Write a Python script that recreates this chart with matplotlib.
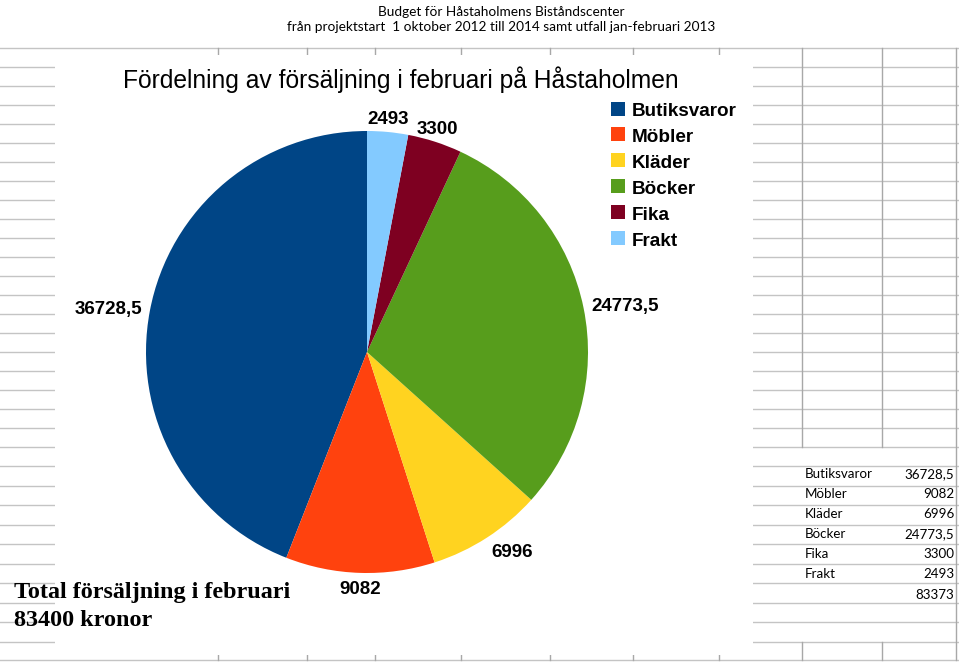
import numpy as np
import matplotlib.pyplot as plt
from matplotlib.patches import Rectangle

# Data from the spreadsheet / chart
categories = ['Butiksvaror', 'Möbler', 'Kläder', 'Böcker', 'Fika', 'Frakt']
values = [36728.5, 9082, 6996, 24773.5, 3300, 2493]
value_labels = ['36728,5', '9082', '6996', '24773,5', '3300', '2493']
table_total = '83373'
colors = ['#004586', '#ff420e', '#ffd320', '#579d1c', '#7e0021', '#83caff']

header1 = 'Budget för Håstaholmens Biståndscenter'
header2 = 'från projektstart  1 oktober 2012 till 2014 samt utfall jan-februari 2013'
title = 'Fördelning av försäljning i februari på Håstaholmen'
note_lines = ['Total försäljning i februari', '83400 kronor']

W, H = 959, 663
fig = plt.figure(figsize=(W / 100, H / 100), dpi=100)

# sheet background drawn in pixel coordinates
bg = fig.add_axes([0, 0, 1, 1])
bg.set_xlim(0, W)
bg.set_ylim(H, 0)
bg.axis('off')

rows = list(48 + 19 * np.arange(23)) + list(466 + 19.55 * np.arange(1, 10)) + [660]
cols = [218, 307, 375, 461, 550, 633, 719, 802, 882, 956]
for y in rows:
    bg.plot([0, W], [y, y], color='#c4c4c4', lw=1, zorder=1)
for x in cols:
    if x in (802, 882):
        bg.plot([x, x], [48, 447], color='#a8a8a8', lw=1, zorder=1)
        bg.plot([x, x], [642, 660], color='#a8a8a8', lw=1, zorder=1)
    else:
        bg.plot([x, x], [48, 660], color='#a8a8a8', lw=1, zorder=1)

# chart area (white box over the cells)
bg.add_patch(Rectangle((55, 55), 698, 600, facecolor='white', edgecolor='none', zorder=2))

# headers above the sheet
bg.text(501, 16, header1, ha='center', fontsize=9.8, family=['Lato', 'DejaVu Sans'],
        va='baseline', zorder=5)
bg.text(501, 31, header2, ha='center', fontsize=9.8, family=['Lato', 'DejaVu Sans'],
        va='baseline', zorder=5)

# chart title
bg.text(401, 88, title, ha='center', va='baseline', fontsize=17.7,
        family=['Liberation Sans', 'DejaVu Sans'], zorder=5)

# legend
for i, (name, col) in enumerate(zip(categories, colors)):
    base = 116 + 25.95 * i
    bg.add_patch(Rectangle((611, base - 14.5), 14, 14, facecolor=col, edgecolor='none', zorder=5))
    bg.text(632, base, name, va='baseline', fontsize=13.6, fontweight='bold',
            family=['Liberation Sans', 'DejaVu Sans'], zorder=5)

# total note
for i, line in enumerate(note_lines):
    bg.text(14, 598 + 28 * i, line, va='baseline', fontsize=17.4, fontweight='bold',
            family=['Liberation Serif', 'DejaVu Serif'], zorder=5)

# small table on the right
for i, (name, lab) in enumerate(zip(categories, value_labels)):
    base = 478 + 20.1 * i
    bg.text(805, base, name, va='baseline', fontsize=9.6, family=['Lato', 'DejaVu Sans'], zorder=5)
    bg.text(954, base, lab, ha='right', va='baseline', fontsize=9.6,
            family=['Lato', 'DejaVu Sans'], zorder=5)
bg.text(954, 478 + 20.1 * 6, table_total, ha='right', va='baseline', fontsize=9.6,
        family=['Lato', 'DejaVu Sans'], zorder=5)

# pie
cx, cy, r = 367, 352, 221
pax = fig.add_axes([(cx - r) / W, (H - cy - r) / H, 2 * r / W, 2 * r / H])
pax.patch.set_alpha(0)
wedges, _ = pax.pie(values, colors=colors, startangle=90, counterclock=True,
                    wedgeprops=dict(linewidth=0))
pax.set_xlim(-1, 1)
pax.set_ylim(-1, 1)
pax.axis('off')

for w, lab in zip(wedges, value_labels):
    ang = np.deg2rad((w.theta1 + w.theta2) / 2)
    c, s = np.cos(ang), np.sin(ang)
    ha = 'center' if abs(c) < 0.35 else ('left' if c > 0 else 'right')
    va = 'center' if abs(s) < 0.35 else ('baseline' if s > 0 else 'top')
    pax.text(1.035 * c, 1.035 * s, lab, ha=ha, va=va, fontsize=13.5, fontweight='bold',
             family=['Liberation Sans', 'DejaVu Sans'], clip_on=False)

fig.savefig('out.png', dpi=100)
